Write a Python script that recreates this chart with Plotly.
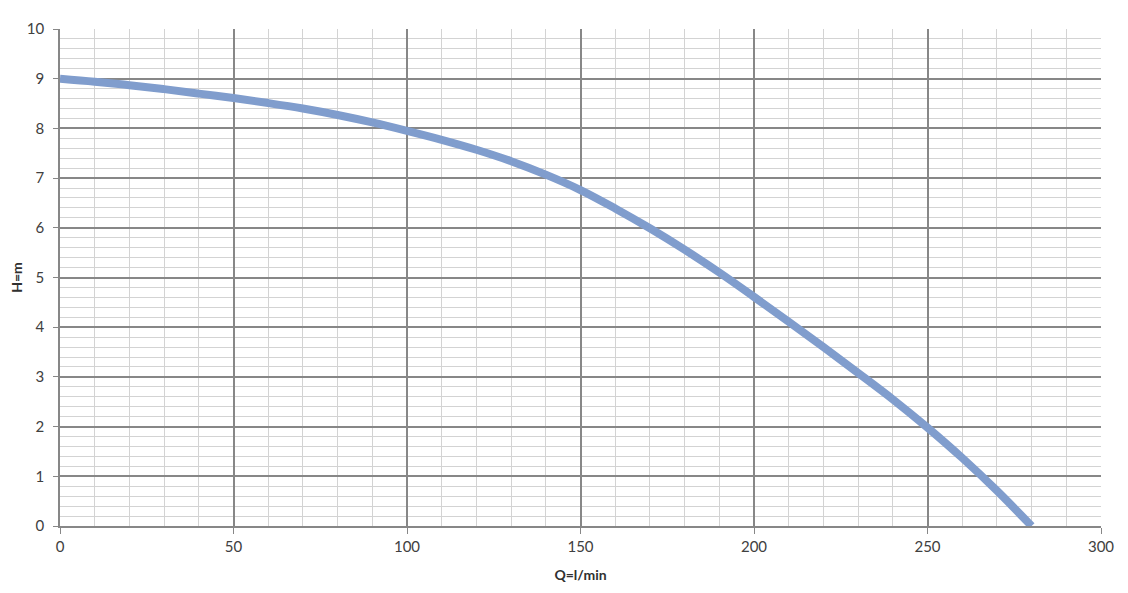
import plotly.graph_objects as go

flow_lpm = [0, 10, 20, 30, 40, 50, 60, 70, 80, 90, 100, 110, 120, 130, 140, 150,
            160, 170, 180, 190, 200, 210, 220, 230, 240, 250, 260, 270, 280]
head_m = [9.0, 8.94, 8.87, 8.79, 8.7, 8.61, 8.51, 8.4, 8.27, 8.12, 7.95, 7.77, 7.57,
          7.34, 7.07, 6.76, 6.39, 5.99, 5.56, 5.1, 4.61, 4.11, 3.6, 3.08, 2.55,
          1.98, 1.37, 0.71, 0.0]

x_title = "Q=l/min"
y_title = "H=m"

fig = go.Figure()
fig.add_trace(go.Scatter(
    x=flow_lpm, y=head_m, mode="lines",
    line=dict(color="#809DCD", width=8, shape="spline", smoothing=1.0),
    showlegend=False, hoverinfo="x+y",
))

font_family = "Lato, Open Sans, sans-serif"

# page body has an 8px margin, so the figure is offset by (8, 8)
fig.update_layout(
    width=1112, height=577,
    margin=dict(l=52, r=19, t=21, b=59),
    paper_bgcolor="white", plot_bgcolor="white",
    font=dict(family=font_family, size=15, color="#404040"),
)
fig.update_xaxes(
    range=[0, 300], dtick=50, tick0=0, automargin=False,
    showgrid=True, gridcolor="#878787", gridwidth=1.5,
    minor=dict(dtick=10, showgrid=True, gridcolor="#d3d3d3", gridwidth=1),
    showline=True, linecolor="#878787", linewidth=1.5,
    ticks="outside", ticklen=6, tickcolor="#878787",
    zeroline=False,
    title=dict(text="<b>" + x_title + "</b>", font=dict(size=14, color="#303030"), standoff=16),
    tickfont=dict(size=15, color="#404040"),
)
fig.update_yaxes(
    range=[0, 10], dtick=1, tick0=0, automargin=False,
    showgrid=True, gridcolor="#878787", gridwidth=1.5,
    minor=dict(dtick=0.2, showgrid=True, gridcolor="#d3d3d3", gridwidth=1),
    showline=True, linecolor="#878787", linewidth=1.5,
    ticks="outside", ticklen=5, tickcolor="#878787",
    ticklabelstandoff=6,
    zeroline=False,
    title=dict(text="<b>" + y_title + "</b>", font=dict(size=14, color="#303030"), standoff=10),
    tickfont=dict(size=15, color="#404040"),
)

fig.write_html("out.html")
